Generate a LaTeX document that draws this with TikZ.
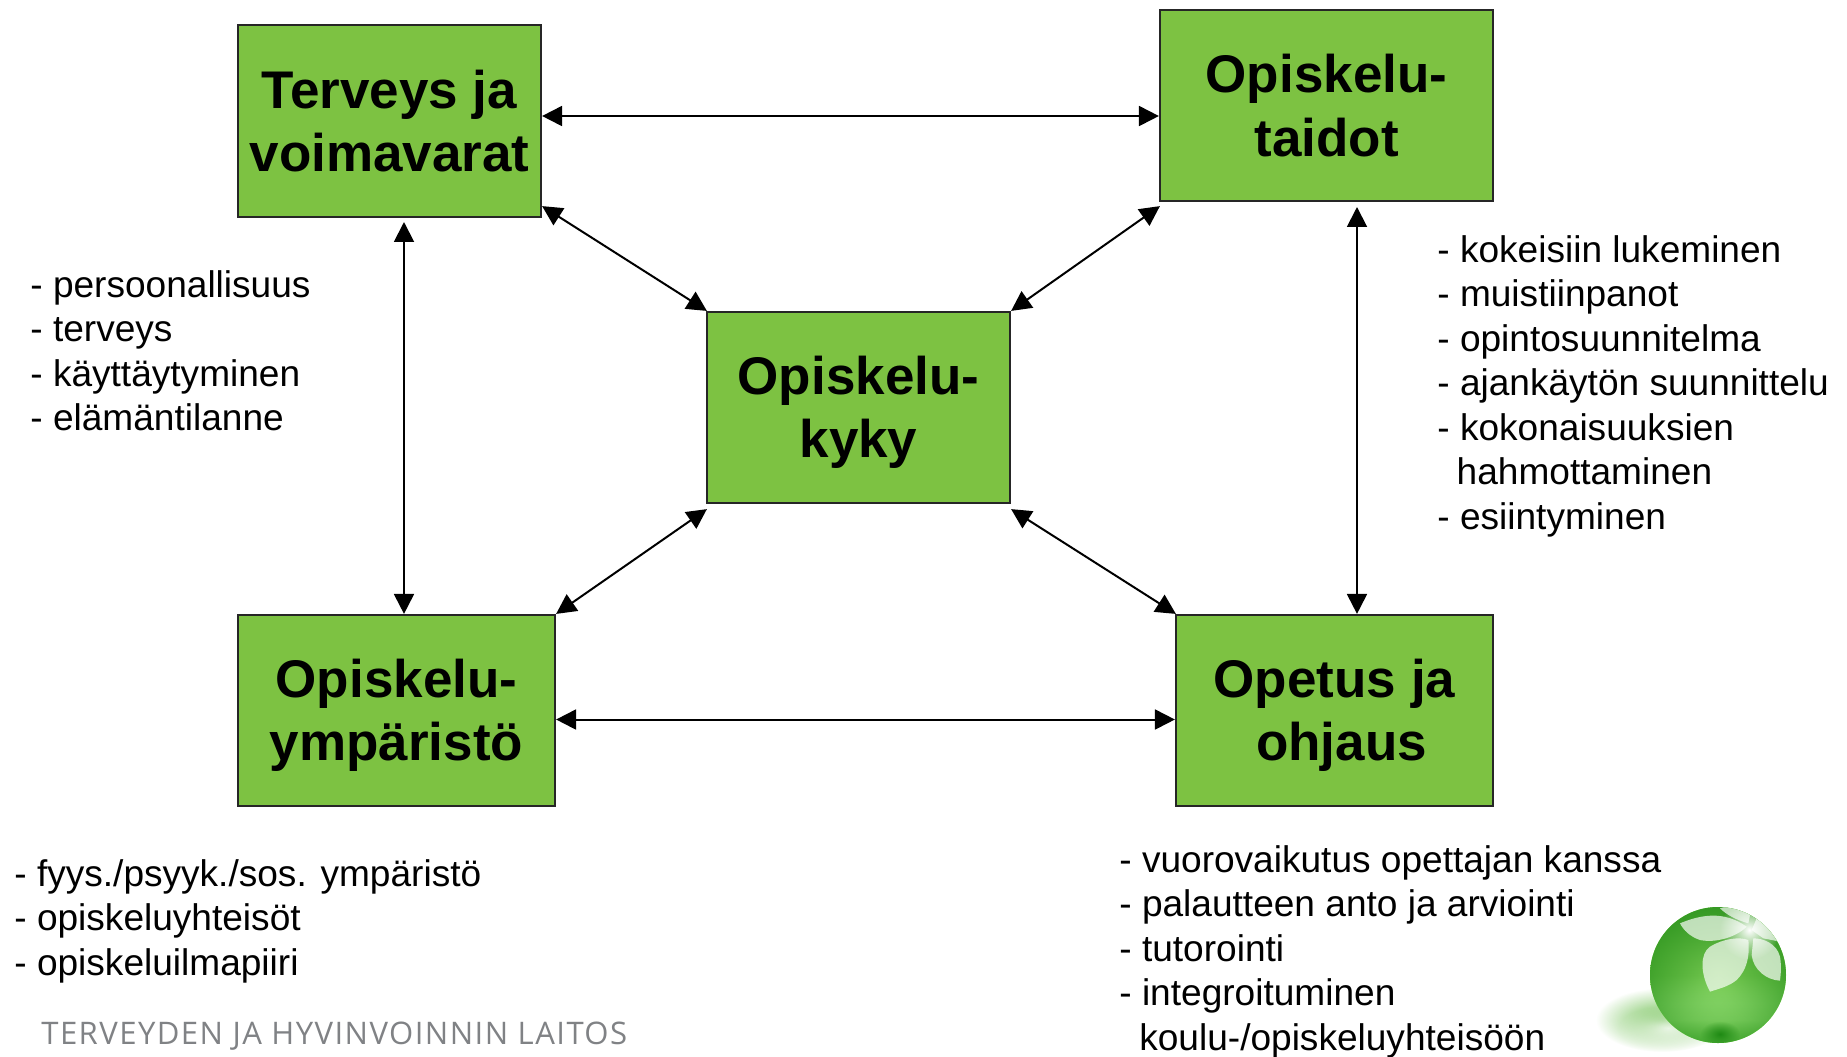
\documentclass[tikz,border=0pt]{standalone}
\usepackage{fontspec}
\setmainfont{Liberation Sans}
\newfontfamily\footfont[LetterSpace=4.6]{Open Sans}
\usetikzlibrary{arrows.meta,fadings,calc}
\definecolor{boxgreen}{HTML}{7DC242}
\definecolor{footgray}{HTML}{808285}
\definecolor{ballA}{HTML}{55B03A}
\definecolor{ballB}{HTML}{74C850}
\definecolor{ballC}{HTML}{9CE578}
\definecolor{ballD}{HTML}{ABF084}
\definecolor{ballE}{HTML}{7AD25A}
\definecolor{ballF}{HTML}{1F8A14}
\definecolor{shadowgreen}{HTML}{5DB83C}
\tikzfading[name=edgefade,inner color=transparent!100,middle color=transparent!100,outer color=transparent!0]
\tikzfading[name=softfade,inner color=transparent!0,outer color=transparent!100]
\tikzset{
 box/.style={draw=black!85,line width=1.1pt,fill=boxgreen,inner sep=0pt,align=center,
   font=\fontsize{26.6}{32}\selectfont\bfseries},
 listtext/.style={anchor=north west,inner sep=0pt,align=left,
   font=\fontsize{18.6}{22.35}\selectfont},
 link/.style={line width=1pt,black,{Triangle[length=10pt,width=10pt]}-{Triangle[length=10pt,width=10pt]}},
 petal/.style={fill=white,fill opacity=.68,draw=none}
}
\newcommand{\lowerline}{\rule{0pt}{24pt}}
\begin{document}
\begin{tikzpicture}[x=.5bp,y=-.5bp]
\useasboundingbox (0,0) rectangle (1847,1056);
% boxes
\node[box,minimum width=151.5bp,minimum height=96bp] (health) at (389.5,121) {Terveys ja\\voimavarat};
\node[box,minimum width=166.5bp,minimum height=95.5bp] (skills) at (1326.5,105.5) {Opiskelu-\\taidot};
\node[box,minimum width=151.5bp,minimum height=95.5bp] (ability) at (858.5,407.5) {\lowerline Opiskelu-\\kyky};
\node[box,minimum width=158.5bp,minimum height=95.5bp] (environ) at (396.5,710.5) {\lowerline Opiskelu-\\ympäristö};
\node[box,minimum width=158.5bp,minimum height=95.5bp] (teach) at (1334.5,710.5) {\lowerline Opetus ja\\\hspace*{7pt}ohjaus};
% connectors
\coordinate (hr) at ($(health.east)+(0,-5)$);
\coordinate (sl) at (skills.west|-hr);
\draw[link] (hr) -- (sl);
\coordinate (el) at ($(environ.east)+(0,9)$);
\coordinate (tl) at (teach.west|-el);
\draw[link] (el) -- (tl);
\coordinate (hb) at (404,222);
\coordinate (et) at (environ.north-|hb);
\draw[link] (hb) -- (et);
\coordinate (sb) at (1357,207);
\coordinate (tt) at (teach.north-|sb);
\draw[link] (sb) -- (tt);
\coordinate (hd) at ($(health.south east)+(0,-12)$);
\coordinate (ad1) at ($(ability.north west)+(1,0)$);
\draw[link] (hd) -- (ad1);
\coordinate (sd) at ($(skills.south west)+(1,4)$);
\coordinate (ad2) at ($(ability.north east)+(0,0)$);
\draw[link] (sd) -- (ad2);
\coordinate (ad3) at ($(ability.south west)+(1,5)$);
\coordinate (ed) at ($(environ.north east)+(0,0)$);
\draw[link] (ad3) -- (ed);
\coordinate (ad4) at ($(ability.south east)+(0,5)$);
\coordinate (td) at ($(teach.north west)+(1,0)$);
\draw[link] (ad4) -- (td);
% lists
\node[listtext] (listhealth) at (30,270) {- persoonallisuus\\- terveys\\- käyttäytyminen\\- elämäntilanne};
\node[listtext] (listskills) at (1437,235) {- kokeisiin lukeminen\\- muistiinpanot\\- opintosuunnitelma\\- ajankäytön suunnittelu\\- kokonaisuuksien\\\hspace*{9.7pt}hahmottaminen\\- esiintyminen};
\node[listtext] (listenv) at (14,859) {- fyys./psyyk./sos. ympäristö\\- opiskeluyhteisöt\\- opiskeluilmapiiri};
\node[listtext] (listteach) at (1119,845) {- vuorovaikutus opettajan kanssa\\- palautteen anto ja arviointi\\- tutorointi\\- integroituminen\\\hspace*{10pt}koulu-/opiskeluyhteisöön};
% footer
\node[anchor=base west,inner sep=0pt,text=footgray,font=\fontsize{15.6}{18}\selectfont\footfont] (footer) at (41,1044) {TERVEYDEN JA HYVINVOINNIN LAITOS};
% logo: shadow
\fill[shadowgreen,path fading=softfade,opacity=.9] (1662,1020) ellipse [x radius=66,y radius=32];
\fill[white,path fading=softfade,opacity=.8] (1668,1028) ellipse [x radius=50,y radius=22];
% logo: sphere
\begin{scope}
\clip (1718,975) circle [radius=68];
\fill[ballD] (1650,907) rectangle (1786,1043);
\shade[top color=ballA,bottom color=ballB] (1650,907) rectangle (1786,975);
\shade[top color=ballB,bottom color=ballC] (1650,975) rectangle (1786,1003);
\shade[top color=ballC,bottom color=ballD] (1650,1003) rectangle (1786,1020);
\shade[top color=ballD,bottom color=ballE] (1650,1020) rectangle (1786,1044);
\fill[ballF,path fading=edgefade,opacity=.6] (1718,975) circle [radius=70];
\fill[ballF,path fading=softfade] (1720,1034) ellipse [x radius=20,y radius=13];
\begin{scope}[shift={(1550,880)},x=.16667bp,y=-.16667bp]
\fill[petal] (390,130) .. controls (450,105) and (520,90) .. (590,140) .. controls (560,170) and (500,190) .. (450,180) .. controls (420,170) and (400,150) .. (390,130) -- cycle;
\fill[petal] (480,335) .. controls (450,280) and (450,220) .. (480,200) .. controls (520,175) and (570,170) .. (595,180) .. controls (600,230) and (590,270) .. (560,300) .. controls (535,320) and (510,325) .. (480,335) -- cycle;
\fill[petal] (610,175) .. controls (640,175) and (680,190) .. (690,230) .. controls (695,260) and (692,285) .. (690,302) .. controls (650,300) and (610,270) .. (605,225) -- cycle;
\fill[petal] (510,85) .. controls (530,105) and (560,120) .. (595,130) -- (600,105) -- (560,70) -- cycle;
\fill[petal] (620,115) .. controls (650,130) and (670,155) .. (690,185) -- (640,175) -- (605,150) -- cycle;
\fill[white,path fading=softfade] (598,150) circle [radius=90];
\end{scope}
\end{scope}
\end{tikzpicture}
\end{document}
